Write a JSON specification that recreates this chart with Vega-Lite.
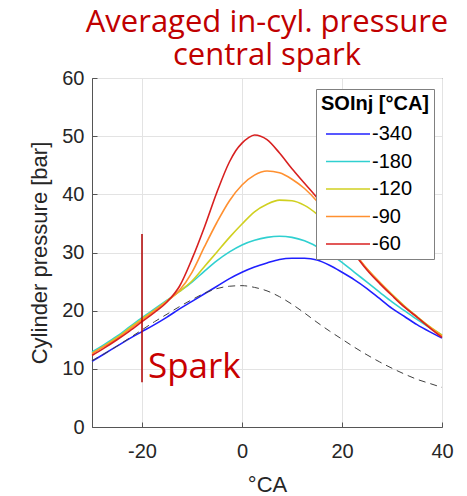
{
  "$schema": "https://vega.github.io/schema/vega-lite/v6.json",
  "width": 350,
  "height": 349,
  "autosize": {"type": "none"},
  "padding": {"left": 92, "top": 78, "right": 25, "bottom": 69},
  "background": "white",
  "title": {
    "text": ["Averaged in-cyl. pressure", "central spark"],
    "font": "Open Sans",
    "fontSize": 31,
    "fontWeight": "normal",
    "color": "#c00000",
    "lineHeight": 33,
    "anchor": "middle",
    "offset": 6,
    "dy": 10
  },
  "config": {
    "view": {"stroke": "#555", "strokeWidth": 1},
    "axis": {
      "labelFont": "Liberation Sans",
      "labelFontSize": 20,
      "labelColor": "#262626",
      "titleFont": "Liberation Sans",
      "titleFontSize": 22,
      "titleFontWeight": "normal",
      "titleColor": "#262626",
      "gridColor": "#e3e3e3",
      "gridWidth": 1,
      "domainColor": "#555",
      "tickColor": "#555",
      "tickSize": -5,
      "labelFlush": false,
      "labelExpr": "'' + datum.value"
    }
  },
  "datasets": {
    "curves": [
      {"x": -30, "p": 11.3, "s": "-340"}, {"x": -27.5, "p": 12.6, "s": "-340"}, {"x": -25, "p": 13.9, "s": "-340"}, {"x": -22.5, "p": 15.2, "s": "-340"}, {"x": -20, "p": 16.4, "s": "-340"}, {"x": -17.5, "p": 17.6, "s": "-340"}, {"x": -15, "p": 18.9, "s": "-340"}, {"x": -12.5, "p": 20.3, "s": "-340"}, {"x": -10, "p": 21.6, "s": "-340"}, {"x": -7.5, "p": 22.9, "s": "-340"}, {"x": -5, "p": 24.2, "s": "-340"}, {"x": -2.5, "p": 25.5, "s": "-340"}, {"x": 0, "p": 26.6, "s": "-340"}, {"x": 2.5, "p": 27.5, "s": "-340"}, {"x": 5, "p": 28.2, "s": "-340"}, {"x": 7.5, "p": 28.8, "s": "-340"}, {"x": 10, "p": 29.0, "s": "-340"}, {"x": 12.5, "p": 29.0, "s": "-340"}, {"x": 15, "p": 28.7, "s": "-340"}, {"x": 17.5, "p": 27.8, "s": "-340"}, {"x": 20, "p": 26.6, "s": "-340"}, {"x": 22.5, "p": 25.3, "s": "-340"}, {"x": 25, "p": 23.8, "s": "-340"}, {"x": 27.5, "p": 22.1, "s": "-340"}, {"x": 30, "p": 20.4, "s": "-340"}, {"x": 32.5, "p": 19.0, "s": "-340"}, {"x": 35, "p": 17.6, "s": "-340"}, {"x": 37.5, "p": 16.4, "s": "-340"}, {"x": 40, "p": 15.3, "s": "-340"},
      {"x": -30, "p": 12.9, "s": "-180"}, {"x": -27.5, "p": 14.2, "s": "-180"}, {"x": -25, "p": 15.6, "s": "-180"}, {"x": -22.5, "p": 17.2, "s": "-180"}, {"x": -20, "p": 18.8, "s": "-180"}, {"x": -17.5, "p": 20.3, "s": "-180"}, {"x": -15, "p": 21.8, "s": "-180"}, {"x": -12.5, "p": 23.3, "s": "-180"}, {"x": -10, "p": 24.9, "s": "-180"}, {"x": -7.5, "p": 26.8, "s": "-180"}, {"x": -5, "p": 28.6, "s": "-180"}, {"x": -2.5, "p": 30.1, "s": "-180"}, {"x": 0, "p": 31.3, "s": "-180"}, {"x": 2.5, "p": 32.1, "s": "-180"}, {"x": 5, "p": 32.6, "s": "-180"}, {"x": 7.5, "p": 32.8, "s": "-180"}, {"x": 10, "p": 32.6, "s": "-180"}, {"x": 12.5, "p": 32.0, "s": "-180"}, {"x": 15, "p": 31.0, "s": "-180"}, {"x": 17.5, "p": 29.8, "s": "-180"}, {"x": 20, "p": 28.3, "s": "-180"}, {"x": 22.5, "p": 26.6, "s": "-180"}, {"x": 25, "p": 24.9, "s": "-180"}, {"x": 27.5, "p": 23.2, "s": "-180"}, {"x": 30, "p": 21.5, "s": "-180"}, {"x": 32.5, "p": 20.0, "s": "-180"}, {"x": 35, "p": 18.5, "s": "-180"}, {"x": 37.5, "p": 17.1, "s": "-180"}, {"x": 40, "p": 15.8, "s": "-180"},
      {"x": -30, "p": 12.7, "s": "-120"}, {"x": -27.5, "p": 14.0, "s": "-120"}, {"x": -25, "p": 15.4, "s": "-120"}, {"x": -22.5, "p": 17.0, "s": "-120"}, {"x": -20, "p": 18.6, "s": "-120"}, {"x": -17.5, "p": 20.1, "s": "-120"}, {"x": -15, "p": 21.7, "s": "-120"}, {"x": -12.5, "p": 23.3, "s": "-120"}, {"x": -10, "p": 25.1, "s": "-120"}, {"x": -7.5, "p": 27.6, "s": "-120"}, {"x": -5, "p": 30.1, "s": "-120"}, {"x": -2.5, "p": 32.6, "s": "-120"}, {"x": 0, "p": 34.9, "s": "-120"}, {"x": 2.5, "p": 37.0, "s": "-120"}, {"x": 5, "p": 38.3, "s": "-120"}, {"x": 7.5, "p": 39.0, "s": "-120"}, {"x": 10, "p": 38.9, "s": "-120"}, {"x": 12.5, "p": 38.1, "s": "-120"}, {"x": 15, "p": 36.6, "s": "-120"}, {"x": 17.5, "p": 34.6, "s": "-120"}, {"x": 20, "p": 32.2, "s": "-120"}, {"x": 22.5, "p": 29.7, "s": "-120"}, {"x": 25, "p": 27.2, "s": "-120"}, {"x": 27.5, "p": 24.9, "s": "-120"}, {"x": 30, "p": 22.8, "s": "-120"}, {"x": 32.5, "p": 20.8, "s": "-120"}, {"x": 35, "p": 19.0, "s": "-120"}, {"x": 37.5, "p": 17.3, "s": "-120"}, {"x": 40, "p": 15.8, "s": "-120"},
      {"x": -30, "p": 12.6, "s": "-90"}, {"x": -27.5, "p": 13.9, "s": "-90"}, {"x": -25, "p": 15.2, "s": "-90"}, {"x": -22.5, "p": 16.8, "s": "-90"}, {"x": -20, "p": 18.4, "s": "-90"}, {"x": -17.5, "p": 20.0, "s": "-90"}, {"x": -15, "p": 21.6, "s": "-90"}, {"x": -12.5, "p": 23.5, "s": "-90"}, {"x": -10, "p": 26.6, "s": "-90"}, {"x": -7.5, "p": 31.0, "s": "-90"}, {"x": -5, "p": 35.2, "s": "-90"}, {"x": -2.5, "p": 38.9, "s": "-90"}, {"x": 0, "p": 41.6, "s": "-90"}, {"x": 2.5, "p": 43.3, "s": "-90"}, {"x": 5, "p": 44.0, "s": "-90"}, {"x": 7.5, "p": 43.7, "s": "-90"}, {"x": 10, "p": 42.6, "s": "-90"}, {"x": 12.5, "p": 41.0, "s": "-90"}, {"x": 15, "p": 38.8, "s": "-90"}, {"x": 17.5, "p": 36.0, "s": "-90"}, {"x": 20, "p": 33.0, "s": "-90"}, {"x": 22.5, "p": 30.0, "s": "-90"}, {"x": 25, "p": 27.2, "s": "-90"}, {"x": 27.5, "p": 24.9, "s": "-90"}, {"x": 30, "p": 22.7, "s": "-90"}, {"x": 32.5, "p": 20.7, "s": "-90"}, {"x": 35, "p": 18.9, "s": "-90"}, {"x": 37.5, "p": 17.2, "s": "-90"}, {"x": 40, "p": 15.6, "s": "-90"},
      {"x": -30, "p": 12.3, "s": "-60"}, {"x": -27.5, "p": 13.6, "s": "-60"}, {"x": -25, "p": 15.0, "s": "-60"}, {"x": -22.5, "p": 16.5, "s": "-60"}, {"x": -20, "p": 18.1, "s": "-60"}, {"x": -17.5, "p": 19.7, "s": "-60"}, {"x": -15, "p": 21.5, "s": "-60"}, {"x": -12.5, "p": 24.2, "s": "-60"}, {"x": -10, "p": 28.9, "s": "-60"}, {"x": -7.5, "p": 34.4, "s": "-60"}, {"x": -5, "p": 40.4, "s": "-60"}, {"x": -2.5, "p": 45.6, "s": "-60"}, {"x": -1.25, "p": 47.5, "s": "-60"}, {"x": 0, "p": 48.8, "s": "-60"}, {"x": 1.25, "p": 49.7, "s": "-60"}, {"x": 2.5, "p": 50.2, "s": "-60"}, {"x": 5, "p": 49.4, "s": "-60"}, {"x": 7.5, "p": 47.1, "s": "-60"}, {"x": 10, "p": 44.4, "s": "-60"}, {"x": 12.5, "p": 41.9, "s": "-60"}, {"x": 15, "p": 39.4, "s": "-60"}, {"x": 17.5, "p": 36.2, "s": "-60"}, {"x": 20, "p": 33.0, "s": "-60"}, {"x": 22.5, "p": 29.8, "s": "-60"}, {"x": 25, "p": 27.0, "s": "-60"}, {"x": 27.5, "p": 24.7, "s": "-60"}, {"x": 30, "p": 22.6, "s": "-60"}, {"x": 32.5, "p": 20.6, "s": "-60"}, {"x": 35, "p": 18.9, "s": "-60"}, {"x": 37.5, "p": 17.1, "s": "-60"}, {"x": 40, "p": 15.4, "s": "-60"}
    ],
    "motored": [
      {"x": -30, "p": 11.4}, {"x": -27.5, "p": 12.6}, {"x": -25, "p": 13.9}, {"x": -22.5, "p": 15.3}, {"x": -20, "p": 16.7}, {"x": -17.5, "p": 18.1}, {"x": -15, "p": 19.4}, {"x": -12.5, "p": 20.7}, {"x": -10, "p": 21.9}, {"x": -7.5, "p": 23.0}, {"x": -5, "p": 23.8}, {"x": -2.5, "p": 24.2}, {"x": 0, "p": 24.3}, {"x": 2.5, "p": 24.0}, {"x": 5, "p": 23.4}, {"x": 7.5, "p": 22.4}, {"x": 10, "p": 21.1}, {"x": 12.5, "p": 19.6}, {"x": 15, "p": 18.0}, {"x": 17.5, "p": 16.5}, {"x": 20, "p": 15.1}, {"x": 22.5, "p": 13.7}, {"x": 25, "p": 12.4}, {"x": 27.5, "p": 11.2}, {"x": 30, "p": 10.1}, {"x": 32.5, "p": 9.1}, {"x": 35, "p": 8.2}, {"x": 37.5, "p": 7.5}, {"x": 40, "p": 6.8}
    ],
    "spark": [
      {"x": -20, "y": 7.7, "y2": 33.2, "tx": -18.8, "ty": 8.4, "label": "Spark"}
    ]
  },
  "layer": [
    {
      "data": {"name": "curves"},
      "mark": {"type": "line", "strokeWidth": 1.6, "interpolate": "monotone"},
      "encoding": {
        "x": {
          "field": "x", "type": "quantitative",
          "scale": {"domain": [-30, 40], "nice": false},
          "axis": {"values": [-20, 0, 20, 40], "title": "°CA", "labelPadding": 19, "titlePadding": 13}
        },
        "y": {
          "field": "p", "type": "quantitative",
          "scale": {"domain": [0, 60], "nice": false},
          "axis": {"values": [0, 10, 20, 30, 40, 50, 60], "title": "Cylinder pressure [bar]", "labelPadding": 13, "titlePadding": 10}
        },
        "color": {
          "field": "s", "type": "nominal",
          "scale": {"domain": ["-340", "-180", "-120", "-90", "-60"], "range": ["#2020ff", "#30d0d0", "#d0d020", "#ff9030", "#d82020"]},
          "legend": {
            "title": "SOInj [°CA]",
            "orient": "none",
            "legendX": 224,
            "legendY": 11,
            "padding": 5,
            "strokeColor": "#808080",
            "fillColor": "white",
            "titleFont": "Liberation Sans",
            "titleFontSize": 20,
            "titleFontWeight": "bold",
            "titleColor": "black",
            "titlePadding": 10,
            "labelFont": "Liberation Sans",
            "labelFontSize": 20,
            "labelColor": "black",
            "symbolType": "M-3,0H3",
            "symbolSize": 215,
            "symbolStrokeWidth": 1.6,
            "symbolOffset": 17,
            "labelOffset": 14,
            "rowPadding": 7.5
          }
        }
      }
    },
    {
      "data": {"name": "motored"},
      "mark": {"type": "line", "strokeWidth": 1, "color": "#404040", "strokeDash": [7, 5], "interpolate": "monotone"},
      "encoding": {
        "x": {"field": "x", "type": "quantitative"},
        "y": {"field": "p", "type": "quantitative"}
      }
    },
    {
      "data": {"name": "spark"},
      "mark": {"type": "rule", "color": "#b00000", "strokeWidth": 1.5},
      "encoding": {
        "x": {"field": "x", "type": "quantitative"},
        "y": {"field": "y", "type": "quantitative"},
        "y2": {"field": "y2"}
      }
    },
    {
      "data": {"name": "spark"},
      "mark": {"type": "text", "font": "Open Sans", "fontSize": 35, "color": "#c80000", "align": "left", "baseline": "alphabetic"},
      "encoding": {
        "x": {"field": "tx", "type": "quantitative"},
        "y": {"field": "ty", "type": "quantitative"},
        "text": {"field": "label"}
      }
    }
  ]
}
